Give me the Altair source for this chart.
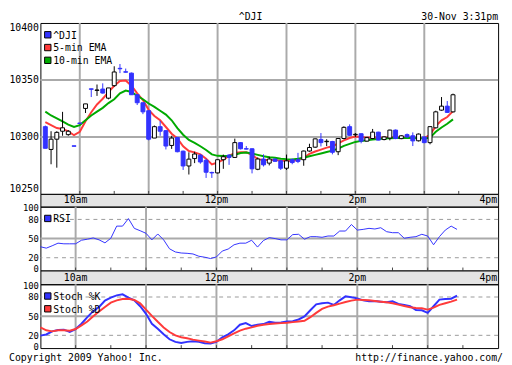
import altair as alt
import pandas as pd

MONO = "DejaVu Sans Mono"
BLUE = "#3232ff"
RED = "#ff3a3a"
GREEN = "#00aa00"
GRID = "#aaaaaa"
DASH = "#999999"
STRIP = "#e4e4e4"

W, H_MAIN, H_S1, H_IND, H_S2 = 466, 174, 13, 65, 14

# ---------------- data (5-minute bars, 9:30 ... 15:25) ----------------
opens = [10309, 10289, 10298, 10305, 10302, 10292.2, 10312.2, 10325, 10342.2, 10340.8,
         10342, 10334, 10345, 10360.2, 10357.2, 10356, 10337, 10330, 10323, 10299,
         10309, 10305.5, 10292.5, 10299.5, 10287.5, 10274.5, 10281, 10284, 10279.5, 10268.8,
         10268.4, 10280, 10284, 10282, 10295, 10289.7, 10289.6, 10271.6, 10280.6, 10277,
         10280.6, 10279, 10272.5, 10280, 10280, 10280, 10287.6, 10291, 10297.8, 10295.8,
         10296, 10287, 10298.6, 10309, 10301.9, 10302.8, 10296.3, 10298.6, 10304.2, 10297.7,
         10299, 10306, 10298.5, 10302, 10301, 10296.6, 10300, 10295, 10308, 10323.5,
         10327, 10322]
highs = [10310, 10305, 10305, 10322, 10306, 10292.3, 10312.3, 10329, 10342.3, 10346,
         10347, 10343, 10362, 10364, 10360, 10356.5, 10337.5, 10330, 10323, 10310,
         10314, 10306, 10301, 10300, 10288, 10286.5, 10287, 10285, 10281, 10269.5,
         10280, 10284.5, 10285, 10298.5, 10295.5, 10292, 10290, 10282, 10284.7, 10282.7,
         10281, 10279.5, 10284.5, 10281, 10286, 10288, 10294, 10298.5, 10303.4, 10298,
         10296.5, 10298.8, 10309.3, 10311, 10303.4, 10303, 10300, 10307, 10304.5, 10300.5,
         10306.3, 10306.5, 10301.5, 10303, 10304, 10303, 10300.5, 10309.5, 10323, 10335,
         10331.5, 10338]
lows = [10290, 10276, 10273, 10301, 10301, 10291.7, 10311.7, 10321, 10335, 10336,
        10338, 10333, 10344, 10356, 10356.5, 10337, 10328, 10320, 10297, 10299,
        10301, 10289, 10289.5, 10286.5, 10271, 10267, 10277, 10276.5, 10264, 10264,
        10268, 10272, 10275.5, 10282, 10289, 10289, 10268, 10270.8, 10274, 10275,
        10278, 10271, 10271, 10276, 10277, 10274.7, 10287, 10290.5, 10291.6, 10292,
        10284.7, 10284, 10298, 10301, 10300, 10294.4, 10296, 10298, 10297, 10297,
        10297, 10298, 10298, 10299, 10292, 10296, 10294.5, 10293.5, 10307.5, 10323,
        10321, 10321.5]
closes = [10290, 10298, 10304, 10308, 10305, 10291.8, 10311.8, 10329, 10341.8, 10341.2,
          10338.5, 10343, 10357, 10359.8, 10356.8, 10337, 10330, 10322, 10298, 10309,
          10305, 10292, 10299, 10287, 10274.5, 10280.5, 10285, 10278, 10269, 10268.4,
          10280, 10282.6, 10282, 10295, 10289.6, 10289.3, 10272, 10280.6, 10275.5, 10280.6,
          10278.6, 10272.5, 10279, 10277.5, 10278.5, 10287.6, 10290.7, 10298.3, 10295, 10296.2,
          10286.5, 10298.6, 10308.4, 10301.4, 10302.3, 10296.3, 10299.4, 10304.2, 10297.2, 10300,
          10306, 10298.6, 10301, 10300, 10296.5, 10302.5, 10295, 10309, 10322, 10327,
          10321.5, 10337]
ema5 = [10312.9, 10310.4, 10307.8, 10307.0, 10304.9, 10301.5, 10304.5, 10313.7, 10321.7, 10328.5,
        10333.5, 10339.4, 10344.9, 10349.1, 10349.5, 10344.9, 10338.2, 10332.3, 10323.8, 10318.4,
        10314.6, 10308.7, 10302.8, 10298.6, 10291.8, 10287.6, 10286.4, 10284.7, 10280.9, 10275.8,
        10277.5, 10280.0, 10283.4, 10285.9, 10286.5, 10286.5, 10284.2, 10280.5, 10279.8, 10279.8,
        10279.8, 10279.2, 10278.9, 10278.9, 10280.0, 10281.7, 10285.1, 10287.2, 10288.9, 10290.6,
        10291.8, 10294.4, 10296.9, 10299.0, 10300.3, 10300.0, 10299.4, 10299.2, 10299.2, 10299.2,
        10299.4, 10299.4, 10299.4, 10299.4, 10299.2, 10299.0, 10299.0, 10301.9, 10309.5, 10314.6,
        10317.5, 10322.6]
ema10 = [10322.2, 10318.8, 10316.3, 10313.7, 10310.8, 10308.7, 10310.4, 10314.6, 10318.8, 10322.2,
         10325.5, 10329.7, 10333.1, 10338.2, 10340.7, 10339.4, 10336.1, 10333.1, 10329.3, 10326.4,
         10323.0, 10319.6, 10314.6, 10307.8, 10301.9, 10297.3, 10294.8, 10291.8, 10288.5, 10284.7,
         10283.4, 10283.2, 10283.2, 10284.2, 10285.9, 10286.4, 10285.5, 10284.2, 10283.0, 10282.1,
         10281.7, 10280.9, 10280.5, 10280.3, 10280.9, 10281.7, 10283.0, 10284.2, 10285.5, 10286.8,
         10288.0, 10289.7, 10292.2, 10293.9, 10295.6, 10296.5, 10297.1, 10297.7, 10298.1, 10298.6,
         10298.8, 10299.0, 10299.0, 10299.0, 10299.0, 10298.8, 10298.6, 10299.4, 10304.5, 10308.3,
         10311.6, 10315.4]
rsi = [37.2, 35, 38.7, 42.8, 41.8, 41.8, 41.8, 47.4, 49, 51,
       48, 43.3, 50.5, 69.5, 69.5, 81.3, 66, 62.3, 58.2, 48,
       57.2, 48, 34, 29, 27.4, 26.9, 25.9, 22.3, 20.8, 18.7,
       21.3, 30.5, 33.6, 40.3, 42.8, 42.8, 47.4, 36.7, 46.9, 51.5,
       50, 48, 48, 56.2, 56.7, 49, 53, 53, 52, 54,
       54, 61.8, 61.8, 72, 63.3, 64.4, 66, 65, 67, 60.8,
       59.2, 59.2, 50.5, 52, 53, 56.7, 54, 40.3, 53, 63.3,
       69.5, 64.4]
stoch_k = [19.5, 21.3, 26.2, 28.3, 28.8, 25.2, 29.8, 38.1, 48.4, 57.8,
           64.5, 74.3, 79, 82.6, 84.1, 79, 74.8, 65.5, 53.6, 38.1,
           30.4, 21.6, 13.8, 9.7, 8.1, 9.7, 10.7, 9.7, 7.6, 7.1,
           9.7, 16.9, 21.6, 27.8, 36.6, 39.1, 34.5, 36.6, 37.6, 41.2,
           39.7, 40.2, 41.7, 42.2, 44.8, 49.5, 59.3, 68.6, 70.2, 71.2,
           67.6, 74.8, 81, 79.5, 77.9, 74.8, 73.3, 73.8, 72.7, 71.7,
           73.3, 69.1, 67.6, 65.5, 59.8, 59.3, 55.2, 65.5, 75.9, 76.9,
           77.4, 82.1]
stoch_d = [32.4, 27.8, 26.2, 27.8, 27.8, 27.3, 29.8, 35.5, 41.7, 50,
           57.2, 64.5, 71.2, 74.8, 76.9, 77.4, 75.3, 70.2, 60.3, 50.5,
           41.2, 32.4, 25.2, 20, 16.9, 15.4, 13.3, 11.7, 10.2, 8.6,
           10.7, 13.8, 18.5, 23.1, 27.3, 30.4, 32.4, 35, 36.6, 37.6,
           38.6, 39.1, 39.7, 40.7, 41.7, 42.8, 48.4, 55.2, 61.4, 65,
           67, 69.6, 72.2, 74.3, 75.9, 75.3, 74.8, 73.8, 72.7, 71.7,
           70.2, 68.1, 66, 64, 62.9, 62.4, 60.3, 63.4, 67.6, 70.2,
           72.7, 75.9]

hour_grid = [10, 11, 12, 13, 14, 15]
half_hours = [10, 10.5, 11, 11.5, 12, 12.5, 13, 13.5, 14, 14.5, 15, 15.5]
strip_hours = [10, 12, 14]
strip_labels = ["10am", "12pm", "2pm"]
end_hours = [16]
end_labels = ["4pm"]
price_ticks = [10250, 10300, 10350, 10400]
price_grid = [10300, 10350]
ind_ticks = [0, 20, 50, 80, 100]
ind_dashed = [20, 80]
ind_solid = [50]
main_legend = ["^DJI", "5-min EMA", "10-min EMA"]
rsi_legend = ["RSI"]
stoch_legend = ["Stoch %K", "Stoch %D"]
title_text = "^DJI"
stamp_text = "30-Nov 3:31pm"
copyright_text = "Copyright 2009 Yahoo! Inc."
url_text = "http://finance.yahoo.com/"

# ---------------- frames ----------------
n = len(opens)
hours = [9.5 + i * 5 / 60 for i in range(n)]
bars = pd.DataFrame({"h": hours, "open": opens, "high": highs, "low": lows, "close": closes,
                     "ema5": ema5, "ema10": ema10, "rsi": rsi, "k": stoch_k, "d": stoch_d})
up = bars[bars["close"] > bars["open"]]
down = bars[bars["close"] <= bars["open"]]

xs = alt.Scale(domain=[9.5, 16], nice=False, zero=False)
ys_main = alt.Scale(domain=[10250, 10400], nice=False, zero=False)
ys_ind = alt.Scale(domain=[0, 100], nice=False, zero=False)

ax_main = alt.Axis(values=price_ticks, format="d", title=None, ticks=False, domain=False,
                   grid=False, labelFlush=True, labelOverlap=False, labelPadding=2,
                   labelFont=MONO, labelFontSize=10, labelColor="black")
ax_ind = alt.Axis(values=ind_ticks, format="d", title=None, ticks=False, domain=False,
                  grid=False, labelFlush=True, labelFlushOffset=3, labelOverlap=False,
                  labelPadding=2, labelFont=MONO, labelFontSize=9, labelColor="black")


def X(f):
    return alt.X(f + ":Q", scale=xs, axis=None)


def Ym(f):
    return alt.Y(f + ":Q", scale=ys_main, axis=ax_main)


def Yi(f):
    return alt.Y(f + ":Q", scale=ys_ind, axis=ax_ind)


def vgrid():
    return alt.Chart(pd.DataFrame({"h": hour_grid})).mark_rule(
        color=GRID, strokeWidth=2).encode(x=X("h"))


def bottom_ticks(height):
    return alt.Chart(pd.DataFrame({"h": half_hours})).mark_rule(
        color="#444444", strokeWidth=1).encode(
        x=X("h"), y=alt.value(height - 3), y2=alt.value(height))


def legend(entries, colors, cx=7.5, cy=12, step=13):
    layers = []
    for i, (lab, col) in enumerate(zip(entries, colors)):
        d = pd.DataFrame({"t": [lab]})
        layers.append(alt.Chart(d).mark_square(
            size=42, filled=True, fill=col, stroke="black", strokeWidth=1, opacity=1
        ).encode(x=alt.value(cx), y=alt.value(cy + i * step)))
        layers.append(alt.Chart(d).mark_text(
            align="left", baseline="middle", font=MONO, fontSize=10, color="black", dy=1
        ).encode(x=alt.value(cx + 5.5), y=alt.value(cy + i * step), text="t:N"))
    return layers


def label(text, x, y, align):
    return alt.Chart(pd.DataFrame({"t": [text]})).mark_text(
        align=align, baseline="alphabetic", font=MONO, fontSize=10, color="black"
    ).encode(x=alt.value(x), y=alt.value(y), text="t:N")


# ---------------- main price panel ----------------
price_grid_layer = alt.Chart(pd.DataFrame({"p": price_grid})).mark_rule(
    color=GRID, strokeWidth=2).encode(y=Ym("p"))
ema5_line = alt.Chart(bars).mark_line(color=RED, strokeWidth=2).encode(x=X("h"), y=Ym("ema5"))
ema10_line = alt.Chart(bars).mark_line(color=GREEN, strokeWidth=2).encode(x=X("h"), y=Ym("ema10"))
wick_up = alt.Chart(up).mark_rule(color="black", strokeWidth=1).encode(
    x=X("h"), y=Ym("low"), y2="high:Q")
wick_dn = alt.Chart(down).mark_rule(color=BLUE, strokeWidth=1).encode(
    x=X("h"), y=Ym("low"), y2="high:Q")
body_up = alt.Chart(up).mark_bar(width=4, fill="white", stroke="black", strokeWidth=1).encode(
    x=X("h"), y=Ym("open"), y2="close:Q")
body_dn = alt.Chart(down).mark_bar(width=4, fill=BLUE, stroke=BLUE, strokeWidth=1).encode(
    x=X("h"), y=Ym("open"), y2="close:Q")

main = alt.layer(
    vgrid(), price_grid_layer, ema5_line, ema10_line, wick_up, wick_dn, body_up, body_dn,
    bottom_ticks(H_MAIN),
    *legend(main_legend, [BLUE, RED, GREEN]),
    label(title_text, 214, -3, "center"),
    label(stamp_text, W, -3, "right"),
).properties(width=W, height=H_MAIN)

# ---------------- time strips ----------------
def strip(height, ybase):
    mid = alt.Chart(pd.DataFrame({"h": strip_hours, "t": strip_labels})).mark_text(
        align="center", baseline="alphabetic", font=MONO, fontSize=10, color="black"
    ).encode(x=X("h"), y=alt.value(ybase), text="t:N")
    end = alt.Chart(pd.DataFrame({"h": end_hours, "t": end_labels})).mark_text(
        align="right", baseline="alphabetic", font=MONO, fontSize=10, color="black", dx=-1
    ).encode(x=X("h"), y=alt.value(ybase), text="t:N")
    return alt.layer(mid, end).properties(
        width=W, height=height, view=alt.ViewBackground(fill=STRIP, stroke="black"))


# ---------------- indicator panels ----------------
def ind_frame():
    dashed = alt.Chart(pd.DataFrame({"v": ind_dashed})).mark_rule(
        color=DASH, strokeWidth=1, strokeDash=[4, 4]).encode(y=Yi("v"))
    solid = alt.Chart(pd.DataFrame({"v": ind_solid})).mark_rule(
        color=GRID, strokeWidth=2).encode(y=Yi("v"))
    return [vgrid(), dashed, solid, bottom_ticks(H_IND)]


rsi_chart = alt.layer(
    *ind_frame(),
    alt.Chart(bars).mark_line(color=BLUE, strokeWidth=1).encode(x=X("h"), y=Yi("rsi")),
    *legend(rsi_legend, [BLUE]),
).properties(width=W, height=H_IND)

stoch_chart = alt.layer(
    *ind_frame(),
    alt.Chart(bars).mark_line(color=BLUE, strokeWidth=2).encode(x=X("h"), y=Yi("k")),
    alt.Chart(bars).mark_line(color=RED, strokeWidth=2).encode(x=X("h"), y=Yi("d")),
    *legend(stoch_legend, [BLUE, RED]),
    label(copyright_text, -32, H_IND + 13, "left"),
    label(url_text, W + 5, H_IND + 13, "right"),
).properties(width=W, height=H_IND)

chart = alt.vconcat(
    main, strip(H_S1, 9.5), rsi_chart, strip(H_S2, 10.5), stoch_chart,
    spacing=0, bounds="flush"
).properties(padding=0).configure(font=MONO).configure_view(
    stroke="black", strokeWidth=1)

chart.save("out.html", embed_options={"renderer": "svg", "actions": False})
